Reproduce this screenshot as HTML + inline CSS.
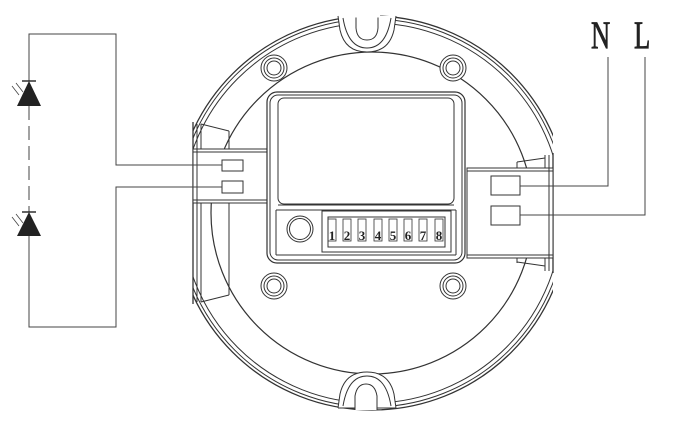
<!DOCTYPE html>
<html><head><style>html,body{margin:0;padding:0;background:#fff}svg{display:block}</style></head>
<body>
<svg width="680" height="424" viewBox="0 0 680 424" xmlns="http://www.w3.org/2000/svg" fill="none" stroke="#333" stroke-width="1">
<defs>
<clipPath id="c"><rect x="193" y="0" width="360" height="424"/></clipPath>
</defs>
<g clip-path="url(#c)">
<circle cx="372" cy="213" r="197" stroke-width="1.3"/>
<circle cx="372" cy="213" r="194"/>
<circle cx="372" cy="213" r="190"/>
<circle cx="372" cy="213" r="161" stroke-width="1.2"/>
</g>
<line x1="193" y1="122" x2="193" y2="304" stroke-width="1.3"/>
<line x1="197" y1="124" x2="197" y2="302"/>
<line x1="201" y1="124" x2="201" y2="302"/>
<line x1="553" y1="153" x2="553" y2="273" stroke-width="1.3"/>
<line x1="549" y1="155" x2="549" y2="271"/>
<line x1="545" y1="155" x2="545" y2="271"/>
<line x1="201" y1="124" x2="229" y2="131"/>
<line x1="229" y1="131" x2="229" y2="150"/>
<line x1="201" y1="302" x2="229" y2="295"/>
<line x1="229" y1="203" x2="229" y2="295"/>
<line x1="545" y1="158" x2="517" y2="162"/>
<line x1="517" y1="162" x2="517" y2="168"/>
<line x1="545" y1="266" x2="517" y2="262"/>
<line x1="517" y1="257" x2="517" y2="263"/>
<rect x="193" y="149" width="77" height="54" fill="#fff"/>
<line x1="193" y1="152" x2="270" y2="152"/>
<line x1="193" y1="200" x2="270" y2="200"/>
<line x1="197" y1="149" x2="197" y2="203"/>
<rect x="222" y="160" width="21" height="11"/>
<rect x="222" y="181" width="21" height="12"/>
<rect x="467" y="168" width="86" height="90" fill="#fff"/>
<line x1="467" y1="171" x2="553" y2="171"/>
<line x1="467" y1="255" x2="553" y2="255"/>
<line x1="549" y1="168" x2="549" y2="258"/>
<rect x="491" y="176" width="29" height="19"/>
<rect x="491" y="206" width="29" height="19"/>
<rect x="267" y="92" width="198" height="171" rx="10" fill="#fff" stroke-width="1.2"/>
<rect x="270" y="95" width="192" height="165" rx="8"/>
<rect x="278" y="98" width="176" height="106" rx="6"/>
<line x1="278" y1="205" x2="454" y2="205"/>
<line x1="276" y1="210" x2="456" y2="210"/>
<line x1="276" y1="210" x2="276" y2="255"/>
<line x1="456" y1="210" x2="456" y2="255"/>
<line x1="276" y1="255" x2="456" y2="255"/>
<circle cx="300" cy="229" r="13"/>
<circle cx="300" cy="229" r="10.5"/>
<rect x="322" y="211" width="129" height="41"/>
<rect x="328" y="217" width="117" height="30"/>
<g font-family="Liberation Serif, serif" font-size="13" fill="#222" stroke="none" text-anchor="middle" font-weight="bold">
<text x="332" y="240">1</text><text x="347" y="240">2</text><text x="362" y="240">3</text><text x="378" y="240">4</text><text x="393" y="240">5</text><text x="408" y="240">6</text><text x="423" y="240">7</text><text x="439" y="240">8</text>
</g>
<g stroke-width="0.8">
<rect x="328" y="219" width="8" height="22"/><rect x="343" y="219" width="8" height="22"/><rect x="358" y="219" width="8" height="22"/><rect x="374" y="219" width="8" height="22"/><rect x="389" y="219" width="8" height="22"/><rect x="404" y="219" width="8" height="22"/><rect x="419" y="219" width="8" height="22"/><rect x="435" y="219" width="8" height="22"/>
</g>
<g fill="#fff">
<circle cx="274" cy="68" r="13"/><circle cx="274" cy="68" r="10"/><circle cx="274" cy="68" r="7"/>
<circle cx="453" cy="68" r="13"/><circle cx="453" cy="68" r="10"/><circle cx="453" cy="68" r="7"/>
<circle cx="274" cy="286" r="13"/><circle cx="274" cy="286" r="10"/><circle cx="274" cy="286" r="7"/>
<circle cx="453" cy="286" r="13"/><circle cx="453" cy="286" r="10"/><circle cx="453" cy="286" r="7"/>
</g>
<path d="M338 16 L340 30 Q345 52 367 52 Q389 52 394 30 L396 16" fill="#fff"/>
<path d="M343 18 Q348 48 367 48 Q386 48 391 18"/>
<path d="M356 16 L356 28 Q357 40 367 40 Q377 40 378 28 L378 16" fill="#fff"/>
<line x1="354" y1="16" x2="380" y2="16" stroke="#fff" stroke-width="3"/>
<path d="M338 408 L340 394 Q345 372 367 372 Q389 372 394 394 L396 408" fill="#fff"/>
<path d="M343 406 Q348 376 367 376 Q386 376 391 406"/>
<path d="M355 410 L355 396 Q357 384 366 384 Q375 384 377 396 L377 410" fill="#fff"/>
<line x1="338" y1="408" x2="355" y2="408"/><line x1="377" y1="408" x2="396" y2="408"/>
<g stroke="#444">
<path d="M29 81 L29 34 L116 34 L116 165 L222 165"/>
<path d="M222 187 L116 187 L116 327 L29 327 L29 236"/>
<line x1="29" y1="106" x2="29" y2="212" stroke-dasharray="14,6"/>
</g>
<polygon points="29,81 17,106 41,106" fill="#222" stroke="none"/>
<line x1="22" y1="81" x2="36" y2="81" stroke="#222" stroke-width="1.4"/>
<polygon points="29,212 17,236 41,236" fill="#222" stroke="none"/>
<line x1="22" y1="212" x2="36" y2="212" stroke="#222" stroke-width="1.4"/>
<g stroke="#444" stroke-width="0.8">
<line x1="19" y1="95" x2="12" y2="86"/><line x1="23" y1="92" x2="16" y2="83"/>
<line x1="19" y1="226" x2="12" y2="217"/><line x1="23" y1="223" x2="16" y2="214"/>
</g>
<path d="M520 186 L608 186 L608 57" stroke="#444"/>
<path d="M520 215 L645 215 L645 57" stroke="#444"/>
<g font-family="Liberation Serif, serif" fill="#222" stroke="#222" stroke-width="0.6" font-size="28">
<text x="0" y="0" transform="translate(591,48) scale(0.95,1.4)">N</text>
<text x="0" y="0" transform="translate(634,48) scale(0.95,1.4)">L</text>
</g>
</svg>
</body></html>
